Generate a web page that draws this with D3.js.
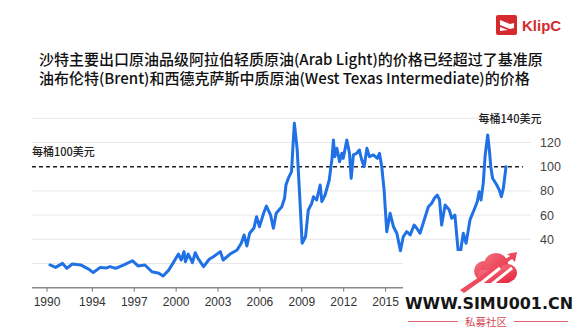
<!DOCTYPE html>
<html>
<head>
<meta charset="utf-8">
<script src="https://cdn.jsdelivr.net/npm/d3@7"></script>
<style>
  html, body { margin: 0; padding: 0; background: #fff; }
  svg { display: block; }
</style>
</head>
<body>
<svg id="chart" width="580" height="334"></svg>
<script>
// Arab Light monthly price, USD per barrel (decimal year, price)
const years = [
  1991.0, 1991.4, 1991.9, 1992.2, 1992.6, 1993.2, 1993.8, 1994.1, 1994.6, 1995.0,
  1995.3, 1995.7, 1996.3, 1996.9, 1997.3, 1997.8, 1998.3, 1998.8, 1999.1, 1999.5,
  1999.8, 2000.2, 2000.4, 2000.6, 2000.7, 2000.9, 2001.2, 2001.4, 2001.6, 2002.0,
  2002.4, 2002.7, 2003.2, 2003.4, 2003.9, 2004.4, 2004.7, 2004.9, 2005.1, 2005.3,
  2005.6, 2005.8, 2006.0, 2006.3, 2006.5, 2006.8, 2007.0, 2007.2, 2007.6, 2007.8,
  2007.9, 2008.1, 2008.3, 2008.4, 2008.5, 2008.7, 2008.9, 2009.06, 2009.3, 2009.5,
  2009.75, 2009.87, 2010.1, 2010.35, 2010.47, 2010.7, 2011.0, 2011.2, 2011.3, 2011.4,
  2011.55, 2011.74, 2011.9, 2012.0, 2012.26, 2012.45, 2012.57, 2012.73, 2012.97, 2013.16,
  2013.33, 2013.5, 2013.7, 2013.88, 2014.16, 2014.45, 2014.6, 2014.76, 2014.93, 2015.12,
  2015.36, 2015.6, 2015.84, 2016.1, 2016.3, 2016.55, 2016.8, 2017.08, 2017.27, 2017.5,
  2017.8, 2018.1, 2018.34, 2018.53, 2018.74, 2018.9, 2019.05, 2019.3, 2019.6, 2019.77,
  2020.0, 2020.3, 2020.6, 2020.8, 2021.08, 2021.37, 2021.6, 2021.74, 2021.87, 2022.03,
  2022.17, 2022.35, 2022.47, 2022.57, 2022.7, 2023.0, 2023.18, 2023.33, 2023.47, 2023.66
];
const prices = [
  18.8, 16.8, 20.1, 16.0, 19.6, 18.8, 15.2, 12.5, 16.8, 16.2,
  17.4, 16.0, 18.8, 22.3, 18.0, 18.8, 13.2, 11.9, 9.7, 14.5,
  20.1, 27.8, 22.9, 29.8, 21.5, 27.8, 20.7, 28.9, 24.3, 17.4,
  23.5, 25.6, 29.8, 22.9, 27.8, 31.2, 36.7, 43.6, 34.5, 45.0,
  49.1, 58.7, 50.4, 61.5, 67.5, 60.0, 49.1, 61.5, 66.9, 73.9,
  84.9, 91.2, 95.9, 116.5, 135.9, 115.0, 72.5, 36.7, 42.1, 64.2,
  69.8, 75.2, 72.5, 84.9, 71.1, 76.6, 89.0, 106.9, 122.0, 108.3,
  115.2, 104.1, 111.1, 106.9, 122.0, 111.1, 90.4, 109.7, 111.1, 113.8,
  105.5, 100.0, 115.2, 108.3, 109.7, 106.9, 111.1, 100.0, 80.7, 46.3,
  61.5, 50.4, 45.0, 30.6, 42.1, 46.3, 43.6, 51.8, 49.1, 45.0,
  56.0, 66.9, 69.8, 73.9, 76.6, 72.5, 51.8, 68.3, 64.2, 57.4,
  60.0, 22.0, 45.0, 36.7, 56.0, 64.2, 71.1, 79.3, 72.5, 86.3,
  109.7, 126.2, 113.8, 100.0, 90.4, 84.9, 80.7, 75.2, 82.1, 100.0
];

// axis ticks
const tickYears  = [1990.75, 1994, 1997, 2000, 2003, 2006, 2009, 2012, 2015];
const tickLabels = ["1990", "1994", "1997", "2000", "2003", "2006", "2009", "2012", "2015"];
const gridValues = [20, 40, 60, 80, 120, 140];
const yTickValues = [40, 60, 80, 100, 120];
const refValue = 100;
const peakNote = "每桶140美元";
const refNote = "每桶100美元";

const titleLines = [
  "沙特主要出口原油品级阿拉伯轻质原油(Arab Light)的价格已经超过了基准原",
  "油布伦特(Brent)和西德克萨斯中质原油(West Texas Intermediate)的价格"
];

const svg = d3.select("#chart");
const CJK = "'Noto Sans CJK SC', 'Noto Sans', sans-serif";
const LAT = "'Liberation Sans', Arial, sans-serif";

const x = d3.scaleLinear().domain([1991, 2023.66]).range([50, 506]);
const y = d3.scaleLinear().domain([0, 140]).range([287.7, 118.3]);

const plotLeft = 32, gridRight = 531, axisRight = 403;

// title, two lines
svg.append("g").selectAll("text").data(titleLines).join("text")
  .attr("x", 39)
  .attr("y", (d, i) => 65 + i * 19)
  .attr("font-family", CJK)
  .attr("font-size", 15)
  .attr("font-weight", 500)
  .attr("fill", "#111")
  .text(d => d);

// gridlines
svg.append("g").selectAll("line").data(gridValues).join("line")
  .attr("x1", plotLeft).attr("x2", gridRight)
  .attr("y1", d => y(d)).attr("y2", d => y(d))
  .attr("stroke", "#e7e7e7").attr("stroke-width", 1);

// reference line at 100
svg.append("line")
  .attr("x1", plotLeft).attr("x2", 523)
  .attr("y1", y(refValue)).attr("y2", y(refValue))
  .attr("stroke", "#222").attr("stroke-width", 1.4)
  .attr("stroke-dasharray", "4,3");

svg.append("text")
  .attr("x", plotLeft).attr("y", y(refValue) - 11)
  .attr("font-family", CJK).attr("font-size", 11).attr("font-weight", 500)
  .attr("fill", "#222").text(refNote);

svg.append("text")
  .attr("x", 510).attr("y", y(140) + 4.5)
  .attr("text-anchor", "middle")
  .attr("font-family", CJK).attr("font-size", 11).attr("font-weight", 500)
  .attr("fill", "#222").text(peakNote);

// y tick labels (right side)
svg.append("g").selectAll("text").data(yTickValues).join("text")
  .attr("x", 540).attr("y", d => y(d) + 4.5)
  .attr("font-family", LAT).attr("font-size", 12.5)
  .attr("fill", "#444").text(d => d);

// price line
const line = d3.line()
  .x((d, i) => x(years[i]))
  .y(d => y(d))
  .curve(d3.curveLinear);

svg.append("path")
  .datum(prices)
  .attr("d", line)
  .attr("fill", "none")
  .attr("stroke", "#1f71e5")
  .attr("stroke-width", 3)
  .attr("stroke-linejoin", "round")
  .attr("stroke-linecap", "round");

// x axis
svg.append("line")
  .attr("x1", plotLeft).attr("x2", axisRight)
  .attr("y1", y(0)).attr("y2", y(0))
  .attr("stroke", "#8a8a8a").attr("stroke-width", 1.5);

const xAxis = d3.axisBottom(x)
  .tickValues(tickYears)
  .tickFormat((d, i) => tickLabels[i])
  .tickSize(4)
  .tickPadding(6);

const gx = svg.append("g")
  .attr("transform", `translate(0,${y(0)})`)
  .call(xAxis);
gx.select(".domain").remove();
gx.selectAll(".tick line").attr("stroke", "#777").attr("stroke-width", 1);
gx.selectAll(".tick text")
  .attr("font-family", LAT).attr("font-size", 12)
  .attr("fill", "#333");

// site mark in the lower right corner (sits on a white panel)
const wm = svg.append("g");
wm.append("rect").attr("x", 403).attr("y", 251).attr("width", 177).attr("height", 83).attr("fill", "#fff");

const defs = svg.append("defs");
const grad = defs.append("linearGradient").attr("id", "cloudGrad")
  .attr("x1", "0").attr("y1", "0").attr("x2", "1").attr("y2", "1");
grad.append("stop").attr("offset", "0").attr("stop-color", "#f2737e");
grad.append("stop").attr("offset", "1").attr("stop-color", "#e8233f");

const cloud = wm.append("g").attr("fill", "url(#cloudGrad)");
cloud.append("circle").attr("cx", 484).attr("cy", 271).attr("r", 10);
cloud.append("circle").attr("cx", 496).attr("cy", 265).attr("r", 12);
cloud.append("circle").attr("cx", 508).attr("cy", 273).attr("r", 9);
cloud.append("rect").attr("x", 478).attr("y", 270).attr("width", 34).attr("height", 13).attr("rx", 5);
cloud.append("path").attr("d", "M460,290 L464,293 L512,259 L515,262 L517,252 L507,254 L510,256 Z");
wm.append("g").attr("stroke", "#fff").attr("stroke-width", 3)
  .selectAll("line").data([0, 12]).join("line")
  .attr("x1", d => 470 + d).attr("y1", 292)
  .attr("x2", d => 500 + d).attr("y2", 268);

wm.append("text")
  .attr("x", 489).attr("y", 309)
  .attr("text-anchor", "middle")
  .attr("font-family", "'DejaVu Sans', sans-serif")
  .attr("font-size", 15).attr("font-weight", "bold")
  .attr("textLength", 168).attr("lengthAdjust", "spacingAndGlyphs")
  .attr("fill", "#151515").text("WWW.SIMU001.CN");

wm.append("g").attr("stroke", "#d9626e").attr("stroke-width", 1)
  .selectAll("line").data([[408, 458], [514, 568]]).join("line")
  .attr("x1", d => d[0]).attr("x2", d => d[1])
  .attr("y1", 321.5).attr("y2", 321.5);
wm.append("text")
  .attr("x", 486).attr("y", 326)
  .attr("text-anchor", "middle")
  .attr("font-family", CJK).attr("font-size", 10.5)
  .attr("fill", "#d24a58").text("私募社区");

// brand badge, top right
const badge = svg.append("g");
badge.append("rect").attr("x", 496).attr("y", 15).attr("width", 21).attr("height", 20)
  .attr("rx", 2).attr("fill", "#d52b2e");
badge.append("path")
  .attr("d", "M500,20 L510,24 L514,23 L514,28 L510,29 L500,25 Z M500,27 L508,30 L500,31 Z")
  .attr("fill", "#fff");
badge.append("text")
  .attr("x", 522).attr("y", 31)
  .attr("font-family", LAT).attr("font-size", 15).attr("font-weight", "bold")
  .attr("fill", "#d52b2e").text("KlipC");
</script>
</body>
</html>
